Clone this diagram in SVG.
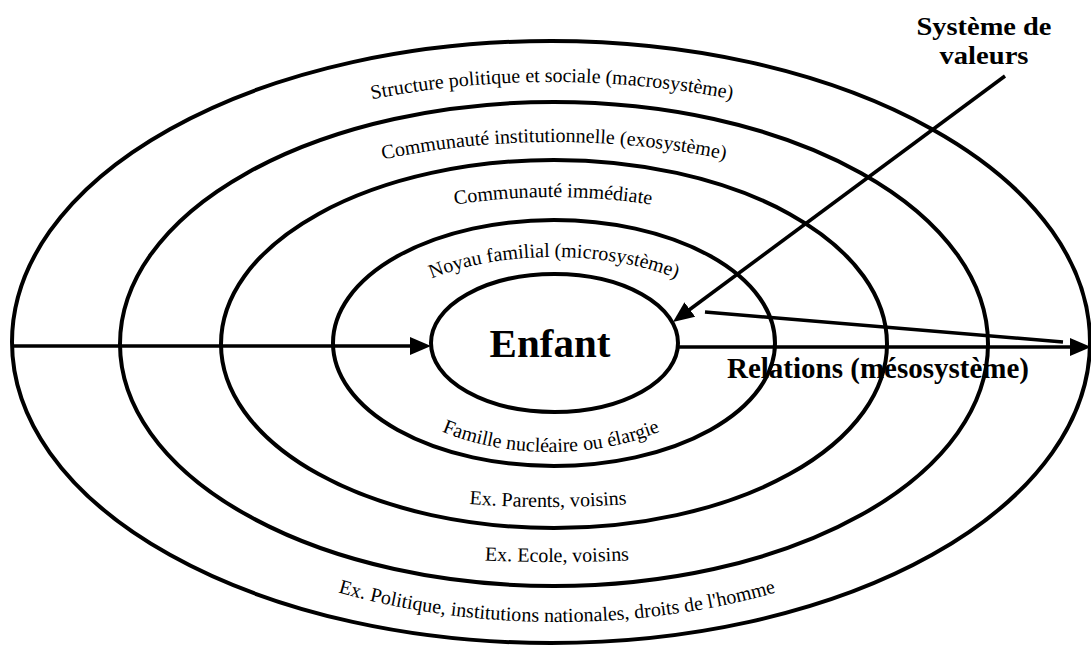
<svg xmlns="http://www.w3.org/2000/svg" width="1091" height="645" viewBox="0 0 1091 645">
<style>
.ring{fill:none;stroke:#000;stroke-width:4}
.conn{fill:none;stroke:#000;stroke-width:3.6}
.lbl{font-family:"Liberation Serif","Times New Roman",serif;font-size:20px;fill:#000}
.big{font-family:"Liberation Serif","Times New Roman",serif;font-weight:bold;fill:#000}
</style>
<defs>
<marker id="ah" markerUnits="userSpaceOnUse" markerWidth="22" markerHeight="20" refX="9" refY="10" orient="auto" viewBox="0 0 22 20">
<path d="M0,1 L21,10 L0,19 z" fill="#000"/>
</marker>
<path id="p1" d="M 47 344 A 505 262 0 0 1 1057 344"/>
<path id="p2" d="M 134 344 A 420 202 0 0 1 974 344"/>
<path id="p3" d="M 246 344 A 307 147 0 0 1 860 344"/>
<path id="p4" d="M 368 344 A 186 87 0 0 1 740 344"/>
<path id="p5" d="M 365 344 A 186 108 0 0 0 737 344"/>
<path id="p6" d="M 129 344 A 419 163 0 0 0 967 344"/>
<path id="p7" d="M -43 344 A 600 218 0 0 0 1157 344"/>
<path id="p8" d="M 70 344 A 487 278 0 0 0 1044 344"/>
</defs>
<g id="macrosysteme">
<ellipse class="ring" cx="551" cy="342" rx="539" ry="301"/>
<text class="lbl"><textPath href="#p1" startOffset="50%" text-anchor="middle">Structure politique et sociale (macrosystème)</textPath></text>
<text class="lbl"><textPath href="#p8" startOffset="50%" text-anchor="middle">Ex. Politique, institutions nationales, droits de l'homme</textPath></text>
</g>
<g id="exosysteme">
<ellipse class="ring" cx="554" cy="344" rx="434" ry="242"/>
<text class="lbl"><textPath href="#p2" startOffset="50%" text-anchor="middle">Communauté institutionnelle (exosystème)</textPath></text>
<text class="lbl"><textPath href="#p7" startOffset="50%" text-anchor="middle">Ex. Ecole, voisins</textPath></text>
</g>
<g id="communaute">
<ellipse class="ring" cx="554" cy="344" rx="333" ry="184"/>
<text class="lbl"><textPath href="#p3" startOffset="50%" text-anchor="middle">Communauté immédiate</textPath></text>
<text class="lbl"><textPath href="#p6" startOffset="50%" text-anchor="middle">Ex. Parents, voisins</textPath></text>
</g>
<g id="microsysteme">
<ellipse class="ring" cx="554" cy="343" rx="221" ry="123"/>
<text class="lbl"><textPath href="#p4" startOffset="50%" text-anchor="middle">Noyau familial (microsystème)</textPath></text>
<text class="lbl"><textPath href="#p5" startOffset="50%" text-anchor="middle">Famille nucléaire ou élargie</textPath></text>
</g>
<g id="enfant">
<ellipse class="ring" cx="554.5" cy="343" rx="123.5" ry="69"/>
<text class="big" x="550" y="357" font-size="41" text-anchor="middle">Enfant</text>
</g>
<g id="systeme-valeurs">
<text class="big" x="984" y="35" font-size="26" text-anchor="middle" textLength="135" lengthAdjust="spacingAndGlyphs">Système de</text>
<text class="big" x="984" y="64" font-size="26" text-anchor="middle" textLength="89" lengthAdjust="spacingAndGlyphs">valeurs</text>
</g>
<g id="relations">
<text class="big" x="727" y="378" font-size="29">Relations (mésosystème)</text>
</g>
<g id="connectors">
<line class="conn" x1="12" y1="346" x2="419" y2="346" marker-end="url(#ah)"/>
<line class="conn" x1="678" y1="347" x2="1079" y2="347" marker-end="url(#ah)"/>
<line class="conn" x1="1005" y1="76" x2="682.6" y2="314.8" marker-end="url(#ah)"/>
<line class="conn" x1="705" y1="312" x2="1063" y2="342"/>
</g>
</svg>
